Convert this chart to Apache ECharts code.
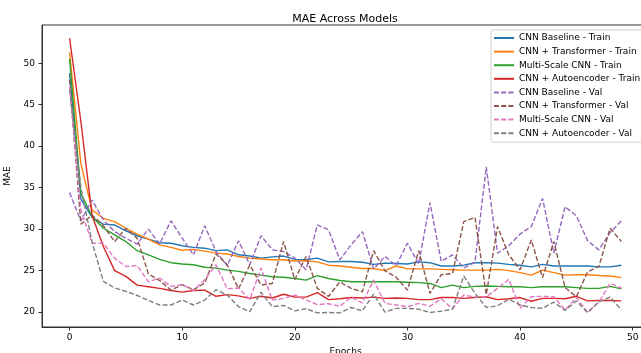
<!DOCTYPE html>
<html>
<head>
<meta charset="utf-8">
<script src="https://cdn.jsdelivr.net/npm/echarts@6.0.0/dist/echarts.min.js"></script>
<style>
    html, body {margin: 0; padding: 0; background: #fff;}
    #maeChart {width: 641px; height: 353px;}
</style>
</head>
<body>
<div id="maeChart"></div>
<script>
// 数据: 每个模型 50 个 epoch 的 MAE
var xTicks = [0, 10, 20, 30, 40, 50];
var yTicks = [20, 25, 30, 35, 40, 45, 50];

var cnnBaseTrain = [48.8, 33.6, 31.4, 30.6, 30.5, 29.8, 29.2, 28.8, 28.35, 28.3,
    28.0, 27.8, 27.7, 27.4, 27.5, 26.9, 26.75, 26.5, 26.65, 26.75,
    26.35, 26.3, 26.5, 26.05, 26.1, 26.1, 26.0, 25.75, 25.9, 25.85,
    25.8, 26.05, 25.95, 25.55, 25.55, 25.65, 25.95, 25.95, 25.9, 25.75,
    25.65, 25.45, 25.75, 25.55, 25.55, 25.55, 25.55, 25.45, 25.45, 25.65];
var cnnTransTrain = [51.3, 37.9, 32.3, 31.3, 30.9, 30.1, 29.4, 28.8, 28.1, 27.8,
    27.45, 27.55, 27.35, 27.1, 27.0, 26.7, 26.5, 26.4, 26.3, 26.3,
    26.15, 26.15, 26.05, 25.65, 25.55, 25.4, 25.25, 25.25, 25.0, 25.55,
    25.2, 25.2, 25.2, 25.15, 25.1, 25.05, 25.05, 25.05, 25.15, 25.0,
    24.75, 24.45, 25.05, 24.75, 24.45, 24.5, 24.5, 24.4, 24.35, 24.15];
var multiScaleTrain = [50.5, 34.3, 31.5, 30.1, 29.3, 28.5, 27.4, 26.9, 26.35, 25.95,
    25.8, 25.7, 25.4, 25.3, 25.05, 24.9, 24.65, 24.45, 24.25, 24.2,
    24.05, 23.85, 24.4, 24.05, 23.8, 23.65, 23.65, 23.65, 23.65, 23.65,
    23.6, 23.55, 23.45, 22.95, 23.25, 22.95, 23.1, 23.15, 23.1, 23.05,
    23.05, 22.95, 23.05, 23.05, 23.05, 22.95, 22.85, 22.85, 23.1, 22.8];
var cnnAutoTrain = [53.0, 43.0, 31.6, 27.9, 25.0, 24.3, 23.25, 23.05, 22.85, 22.6,
    22.4, 22.6, 22.65, 21.9, 22.1, 21.95, 21.65, 21.9, 21.7, 22.15,
    21.8, 21.8, 22.35, 21.5, 21.6, 21.75, 21.7, 21.8, 21.65, 21.7,
    21.65, 21.5, 21.5, 21.75, 21.75, 21.65, 21.75, 21.85, 21.5, 21.6,
    21.75, 21.3, 21.65, 21.65, 21.6, 21.9, 21.35, 21.4, 21.4, 21.35];

var cnnBaseVal = [34.4, 31.0, 33.5, 31.1, 29.7, 28.9, 28.2, 30.0, 28.2, 31.0,
    28.9, 26.9, 30.4, 27.3, 25.6, 28.6, 25.7, 29.2, 27.5, 27.3,
    26.5, 25.1, 30.5, 29.9, 26.3, 28.1, 29.7, 25.2, 26.7, 25.6,
    28.3, 25.8, 33.2, 26.1, 26.9, 25.3, 26.0, 37.5, 27.1, 28.0,
    29.4, 30.3, 33.7, 27.1, 32.7, 31.6, 28.6, 27.5, 29.6, 31.0];
var cnnTransVal = [48.0, 30.6, 31.7, 30.4, 28.5, 30.1, 28.9, 24.6, 23.8, 22.65,
    23.3, 22.7, 23.5, 27.0, 25.7, 22.8, 25.7, 23.25, 23.45, 28.5,
    23.9, 26.7, 22.85, 21.9, 23.65, 22.85, 22.45, 27.4, 25.0, 24.2,
    22.65, 27.4, 22.25, 24.5, 24.65, 30.9, 31.4, 22.1, 30.3, 26.9,
    25.1, 28.7, 24.15, 28.5, 22.95, 21.85, 24.85, 25.5, 30.1, 28.5];
var multiScaleVal = [47.2, 32.3, 28.3, 28.3, 26.5, 25.5, 25.6, 23.65, 24.1, 23.1,
    23.3, 22.6, 23.9, 25.7, 22.8, 22.9, 21.5, 25.3, 21.45, 21.65,
    22.05, 21.45, 20.9, 21.0, 20.7, 21.8, 21.1, 23.85, 21.05, 20.85,
    20.65, 21.05, 20.7, 21.6, 20.4, 22.05, 21.8, 21.85, 22.85, 23.95,
    20.45, 21.85, 21.9, 21.85, 20.25, 21.75, 20.0, 21.2, 23.45, 22.9];
var cnnAutoVal = [46.8, 35.0, 28.4, 23.7, 22.9, 22.5, 22.0, 21.4, 20.85, 20.85,
    21.45, 20.85, 21.45, 22.7, 22.05, 20.65, 20.05, 22.4, 20.65, 20.8,
    20.15, 20.4, 19.9, 19.95, 19.9, 20.55, 20.15, 22.15, 20.0, 20.45,
    20.45, 20.35, 19.95, 20.1, 20.35, 24.35, 22.25, 20.55, 20.75, 21.55,
    20.85, 20.55, 20.45, 21.2, 20.2, 21.35, 19.9, 21.25, 21.8, 20.25];

var seriesNames = ['CNN Baseline - Train', 'CNN + Transformer - Train', 'Multi-Scale CNN - Train',
    'CNN + Autoencoder - Train', 'CNN Baseline - Val', 'CNN + Transformer - Val',
    'Multi-Scale CNN - Val', 'CNN + Autoencoder - Val'];
var seriesValues = [cnnBaseTrain, cnnTransTrain, multiScaleTrain, cnnAutoTrain,
    cnnBaseVal, cnnTransVal, multiScaleVal, cnnAutoVal];
var seriesColors = ['#1f77b4', '#ff7f0e', '#2ca02c', '#d62728',
    '#9467bd', '#8c564b', '#e377c2', '#7f7f7f'];

var fontName = 'DejaVu Sans';
var maeChart;

//把数组转成 [epoch, value]
function toPairs(values) {
    var result = [];
    for (var i = 0; i < values.length; i++) {
        result.push([i, values[i]]);
    }
    return result;
}

function buildSeries() {
    var list = [];
    for (var i = 0; i < seriesNames.length; i++) {
        list.push({
            name: seriesNames[i],
            type: 'line',
            data: toPairs(seriesValues[i]),
            symbol: 'none',
            color: seriesColors[i],
            lineStyle: {
                width: 1.4,
                color: seriesColors[i],
                type: i < 4 ? 'solid' : [5, 2.2]
            },
            animation: false
        });
    }
    return list;
}

function getOption() {
    return {
        backgroundColor: '#fff',
        title: {
            text: 'MAE Across Models',
            left: 340,
            top: 9,
            textAlign: 'center',
            textStyle: {fontFamily: fontName, fontSize: 11, fontWeight: 'normal', color: '#000'}
        },
        grid: {left: 42, top: 25, right: -8, bottom: 26, show: true,
            outerBoundsMode: 'none', containLabel: false,
            borderColor: '#333', borderWidth: 1, backgroundColor: 'transparent'},
        legend: {
            orient: 'vertical',
            left: 491,
            top: 30,
            data: seriesNames,
            itemWidth: 20,
            itemHeight: 8,
            itemGap: 2.6,
            padding: [2.5, 4, 3.5, 2],
            itemStyle: {opacity: 0},
            backgroundColor: 'rgba(255,255,255,0.8)',
            borderColor: '#d0d0d0',
            borderWidth: 1,
            borderRadius: 2,
            textStyle: {fontFamily: fontName, fontSize: 9, lineHeight: 11, color: '#000'}
        },
        xAxis: {
            type: 'value',
            min: -2.45,
            max: 51.45,
            name: 'Epochs',
            nameLocation: 'middle',
            nameGap: 16,
            nameTextStyle: {fontFamily: fontName, fontSize: 9, color: '#000'},
            splitLine: {show: false},
            axisLine: {show: true, onZero: false, lineStyle: {color: '#333'}},
            axisTick: {show: true, inside: false, length: 3.5, customValues: xTicks, lineStyle: {color: '#333'}},
            axisLabel: {customValues: xTicks, margin: 6, fontFamily: fontName, fontSize: 9, color: '#000'}
        },
        yAxis: {
            type: 'value',
            min: 18.2,
            max: 54.6,
            name: 'MAE',
            nameLocation: 'middle',
            nameGap: 21,
            nameTextStyle: {fontFamily: fontName, fontSize: 9, color: '#000'},
            splitLine: {show: false},
            axisLine: {show: true, onZero: false, lineStyle: {color: '#333'}},
            axisTick: {show: true, inside: false, length: 3.5, customValues: yTicks, lineStyle: {color: '#333'}},
            axisLabel: {customValues: yTicks, margin: 7, fontFamily: fontName, fontSize: 9, color: '#000'}
        },
        series: buildSeries()
    };
}

maeChart = echarts.init(document.getElementById('maeChart'), null, {renderer: 'canvas'});
maeChart.setOption(getOption(), true);
</script>
</body>
</html>
